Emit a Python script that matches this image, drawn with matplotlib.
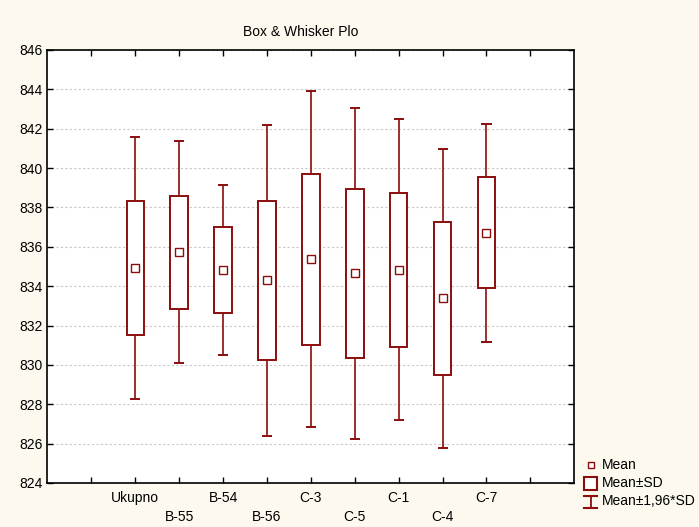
import matplotlib
matplotlib.use("Agg")
import matplotlib.pyplot as plt
from matplotlib.lines import Line2D
from matplotlib.patches import Rectangle

categories = ["Ukupno", "B-55", "B-54", "B-56", "C-3", "C-5", "C-1", "C-4", "C-7"]
means = [834.92, 835.73, 834.83, 834.29, 835.37, 834.65, 834.83, 833.38, 836.71]
sds = [3.40, 2.87, 2.20, 4.04, 4.35, 4.30, 3.90, 3.87, 2.82]
whisker_factor = 1.96
yticks = list(range(824, 847, 2))
title = "Box & Whisker Plo"
legend_labels = ["Mean", "Mean\u00b1SD", "Mean\u00b11,96*SD"]

plt.rcParams['font.family'] = ['Liberation Sans', 'DejaVu Sans']
FS = 10
RED = '#8b0d0d'
BG = '#fdf9ee'

W, H = 699, 527
fig = plt.figure(figsize=(W / 100, H / 100), dpi=100, facecolor=BG)
L, R, T, B = 47.5, 574.3, 50, 483
ax = fig.add_axes([L / W, 1 - B / H, (R - L) / W, (B - T) / H])
ax.set_facecolor('white')

positions = [i + 2 for i in range(len(categories))]
lo_w = [m - whisker_factor * s for m, s in zip(means, sds)]
hi_w = [m + whisker_factor * s for m, s in zip(means, sds)]

# whiskers
ax.vlines(positions, lo_w, hi_w, color=RED, lw=1.2, zorder=2)
ax.hlines(lo_w, [p - 0.115 for p in positions], [p + 0.115 for p in positions], color=RED, lw=1.4, zorder=2)
ax.hlines(hi_w, [p - 0.115 for p in positions], [p + 0.115 for p in positions], color=RED, lw=1.4, zorder=2)
# boxes mean +- SD
ax.bar(positions, [2 * s for s in sds], bottom=[m - s for m, s in zip(means, sds)], width=0.4,
       facecolor='white', edgecolor=RED, linewidth=1.4, zorder=3)
# means
ax.plot(positions, means, ls='none', marker='s', ms=5.5, mfc='white', mec=RED, mew=1.0, zorder=4)

ax.set_xlim(0, 12)
ax.set_ylim(824, 846)
ax.set_yticks(yticks)
ax.set_yticklabels([str(v) for v in yticks], fontsize=FS)
ax.set_xticks(range(1, 12))
ax.set_xticklabels([])
ax.tick_params(direction='in', top=True, right=True, length=4.5, width=1.0, pad=3.5)
ax.yaxis.grid(True, linestyle=(0, (2, 2)), color='#c8c8c8', lw=0.8)
ax.set_axisbelow(True)
for sp in ax.spines.values():
    sp.set_linewidth(1.2)
    sp.set_color('black')

# alternating category labels
for i, (p, c) in enumerate(zip(positions, categories)):
    off = 15 if i % 2 == 0 else 34
    ax.annotate(c, xy=(p, 0), xycoords=ax.get_xaxis_transform(), xytext=(0, -off),
                textcoords='offset pixels', ha='center', va='center', fontsize=FS)

fig.text(301 / W, 1 - 32 / H, title, ha='center', va='center', fontsize=FS)

# legend (figure coordinates)
def fx(px):
    return px / W

def fy(py):
    return 1 - py / H

fig.add_artist(Line2D([fx(590.5)], [fy(465)], ls='none', marker='s', ms=5, mfc='white', mec=RED, mew=1.0))
fig.add_artist(Rectangle((fx(584), fy(489.5)), 12.5 / W, 13 / H, transform=fig.transFigure,
                         facecolor='white', edgecolor=RED, lw=1.5))
fig.add_artist(Line2D([fx(590.5), fx(590.5)], [fy(496), fy(508)], color=RED, lw=1.3))
fig.add_artist(Line2D([fx(584), fx(597)], [fy(496), fy(496)], color=RED, lw=1.5))
fig.add_artist(Line2D([fx(584), fx(597)], [fy(508), fy(508)], color=RED, lw=1.5))
for lab, yy in zip(legend_labels, [465, 483, 501]):
    fig.text(fx(602), fy(yy), lab, ha='left', va='center', fontsize=FS)

fig.savefig('out.png', dpi=100, facecolor=BG)
